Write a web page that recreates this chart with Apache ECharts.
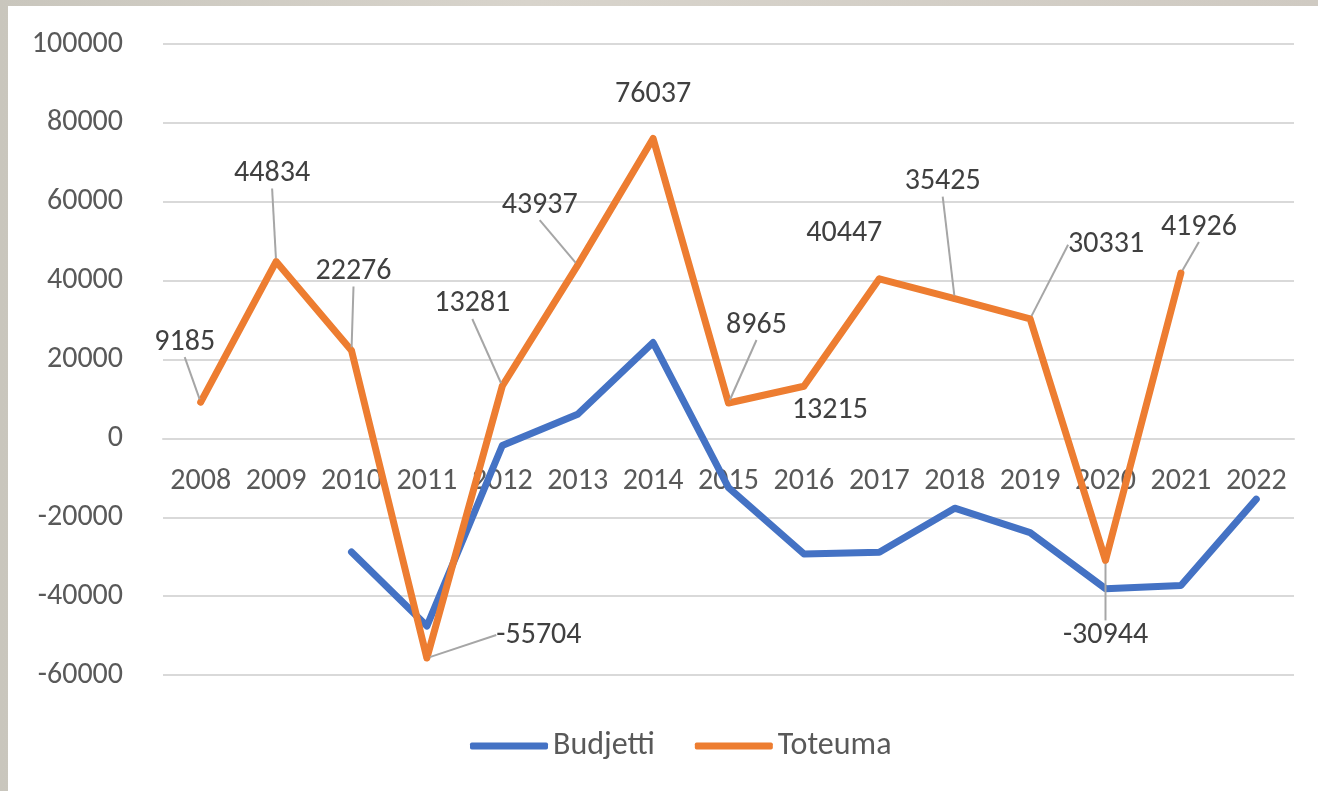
<!DOCTYPE html>
<html>
<head>
<meta charset="utf-8">
<script src="https://cdn.jsdelivr.net/npm/echarts@6/dist/echarts.min.js"></script>
<style>
  html, body { margin: 0; padding: 0; }
  body {
    width: 1318px; height: 791px; overflow: hidden;
    background: linear-gradient(90deg, #c9c6bd 0%, #d8d4cc 40%, #cfcac2 100%);
  }
  #lineChart {
    position: absolute; left: 8px; top: 6px;
    width: 1310px; height: 785px; background: #fff;
  }
</style>
</head>
<body>
<div id="lineChart"></div>
<script>
  var years = ['2008','2009','2010','2011','2012','2013','2014','2015','2016','2017','2018','2019','2020','2021','2022'];
  var budjetti = [null, null, -28800, -47600, -1800, 6100, 24300, -12500, -29300, -28900, -17700, -23900, -38100, -37300, -15400];
  var toteuma = [9185, 44834, 22276, -55704, 13281, 43937, 76037, 8965, 13215, 40447, 35425, 30331, -30944, 41926, null];
  var yTicks = { min: -60000, max: 100000, step: 20000 };

  // label placement for Toteuma (offset from the point, px) and whether a leader is drawn
  var labelPos = {
    '2008': [-16, -60, true], '2009': [-4, -88, true], '2010': [2, -79, true],
    '2011': [112, -23, true], '2012': [-30, -82, true], '2013': [-38, -60, true],
    '2014': [0, -44, false], '2015': [28, -78, true], '2016': [26, 24, false],
    '2017': [-35, -45, false], '2018': [-12, -117, true], '2019': [76, -74, true],
    '2020': [0, 75, true], '2021': [18, -46, true]
  };

  var font = 'Carlito, Lato, "Open Sans", sans-serif';
  var gridTop = 38, gridBottom = 116, chartH = 785;
  // move the category axis up to the zero line
  var zeroOffset = (chartH - gridTop - gridBottom) * (0 - yTicks.min) / (yTicks.max - yTicks.min);

  var chart = echarts.init(document.getElementById('lineChart'));

  chart.setOption({
    animation: false,
    textStyle: { fontFamily: font },
    grid: { left: 155, right: 24, top: gridTop, bottom: gridBottom, containLabel: false },
    legend: {
      bottom: 24,
      left: 457,
      itemWidth: 78,
      itemHeight: 7,
      itemGap: 40,
      textStyle: { color: '#595959', fontSize: 32, fontFamily: font },
      data: [
        { name: 'Budjetti', icon: 'roundRect', itemStyle: { color: '#4472C4' } },
        { name: 'Toteuma', icon: 'roundRect', itemStyle: { color: '#ED7D31' } }
      ]
    },
    xAxis: {
      type: 'category',
      data: years,
      boundaryGap: true,
      offset: -zeroOffset,
      axisLine: { onZero: false, lineStyle: { color: '#d9d9d9', width: 2 } },
      axisTick: { show: false },
      axisLabel: { color: '#595959', fontSize: 30, margin: 28, interval: 0 },
      splitLine: { show: false }
    },
    yAxis: {
      type: 'value',
      min: yTicks.min,
      max: yTicks.max,
      interval: yTicks.step,
      axisLine: { show: false },
      axisTick: { show: false },
      axisLabel: {
        color: '#595959', fontSize: 30, margin: 40,
        formatter: function (v) { return String(v); }
      },
      splitLine: { lineStyle: { color: '#d9d9d9', width: 2 } }
    },
    series: [{
      name: 'Budjetti',
      type: 'line',
      data: budjetti,
      symbol: 'none',
      connectNulls: false,
      lineStyle: { color: '#4472C4', width: 7, cap: 'round', join: 'round' },
      itemStyle: { color: '#4472C4' },
      z: 2
    }, {
      name: 'Toteuma',
      type: 'line',
      data: toteuma.map(function (v, i) {
        var p = labelPos[years[i]];
        return { value: v, labelLine: { show: p ? p[2] : false } };
      }),
      symbol: 'circle',
      symbolSize: 6,
      lineStyle: { color: '#ED7D31', width: 7, cap: 'round', join: 'round' },
      itemStyle: { color: '#ED7D31' },
      label: {
        show: true,
        position: 'inside',
        color: '#404040',
        fontSize: 30,
        fontFamily: font
      },
      labelLine: {
        show: true,
        lineStyle: { color: '#a6a6a6', width: 2 }
      },
      labelLayout: function (params) {
        var p = labelPos[years[params.dataIndex]];
        if (!p) return {};
        return { dx: p[0], dy: p[1] };
      },
      z: 3
    }]
  });
</script>
</body>
</html>
